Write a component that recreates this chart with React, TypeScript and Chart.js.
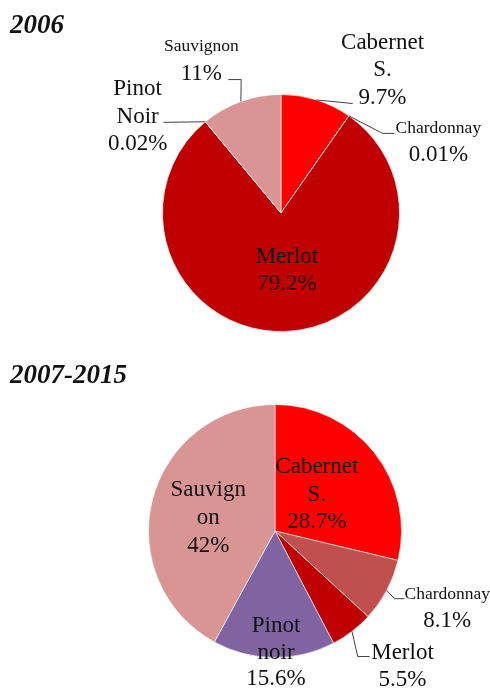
import React, { useEffect, useRef } from "react";
import { Chart, registerables } from "chart.js";

Chart.register(...registerables);

// ---- Data ----
const categories2006 = ["Cabernet S.", "Chardonnay", "Merlot", "Pinot Noir", "Sauvignon"];
const values2006 = [9.7, 0.01, 79.2, 0.02, 11];
const labels2006 = ["9.7%", "0.01%", "79.2%", "0.02%", "11%"];

const categories0715 = ["Cabernet S.", "Chardonnay", "Merlot", "Pinot noir", "Sauvignon"];
const values0715 = [28.7, 8.1, 5.5, 15.6, 42];
const labels0715 = ["28.7%", "8.1%", "5.5%", "15.6%", "42%"];

const colors2006 = ["#FF0000", "#C0504D", "#C00000", "#8064A2", "#D99594"];
const colors0715 = ["#FF0000", "#C0504D", "#C00000", "#8064A2", "#D99594"];

// ---- Label layout (fractions of radius, relative to pie center) ----
type LabelSpec = {
  lines: string[];
  smallFirst?: boolean;
  x: number;
  y: number;
  lh: number;
  leader?: [number, number][];
};

const layout2006: LabelSpec[] = [
  { lines: ["Cabernet", "S.", "{v}"], x: 0.857, y: -1.454, lh: 27.5, leader: [[0.605, -0.924]] },
  { lines: ["Chardonnay", "{v}"], smallFirst: true, x: 1.328, y: -0.723, lh: 25.5, leader: [[0.857, -0.672], [0.958, -0.672]] },
  { lines: ["Merlot", "{v}"], x: 0.05, y: 0.353, lh: 27 },
  { lines: ["Pinot", "Noir", "{v}"], x: -1.21, y: -1.059, lh: 27.5, leader: [[-0.992, -0.765]] },
  { lines: ["Sauvignon", "{v}"], smallFirst: true, x: -0.672, y: -1.42, lh: 27, leader: [[-0.336, -1.126], [-0.445, -1.126]] },
];

const layout0715: LabelSpec[] = [
  { lines: ["Cabernet", "S.", "{v}"], x: 0.331, y: -0.52, lh: 27.5 },
  { lines: ["Chardonnay", "{v}"], smallFirst: true, x: 1.362, y: 0.488, lh: 26, leader: [[0.945, 0.535], [1.024, 0.535]] },
  { lines: ["Merlot", "{v}"], x: 1.008, y: 0.953, lh: 26.5, leader: [[0.654, 0.992], [0.748, 0.992]] },
  { lines: ["Pinot", "noir", "{v}"], x: 0.008, y: 0.74, lh: 26.5 },
  { lines: ["Sauvign", "on", "{v}"], x: -0.528, y: -0.339, lh: 28 },
];

const FONT = '"Liberation Serif", "Times New Roman", serif';

function makeLabelPlugin(layout: LabelSpec[], valueLabels: string[]) {
  return {
    id: "pieLabels",
    afterDatasetsDraw(chart: any) {
      const meta = chart.getDatasetMeta(0);
      const ctx = chart.ctx;
      ctx.save();
      meta.data.forEach((arc: any, i: number) => {
        const spec = layout[i];
        if (!spec) return;
        const { x: cx, y: cy, outerRadius: r, startAngle, endAngle } = arc.getProps(
          ["x", "y", "outerRadius", "startAngle", "endAngle"],
          true
        );
        // leader line
        if (spec.leader) {
          const mid = (startAngle + endAngle) / 2;
          ctx.beginPath();
          ctx.strokeStyle = "#404040";
          ctx.lineWidth = 1;
          ctx.moveTo(cx + Math.cos(mid) * r, cy + Math.sin(mid) * r);
          spec.leader.forEach(([px, py]) => ctx.lineTo(cx + px * r, cy + py * r));
          ctx.stroke();
        }
        // text
        ctx.fillStyle = "#111";
        ctx.textAlign = "center";
        ctx.textBaseline = "alphabetic";
        spec.lines.forEach((ln, j) => {
          const text = ln === "{v}" ? valueLabels[i] : ln;
          const size = spec.smallFirst && j === 0 ? 17.5 : 23;
          ctx.font = `${size}px ${FONT}`;
          const yy = cy + spec.y * r + j * spec.lh + 0.34 * size;
          ctx.fillText(text, cx + spec.x * r, yy);
        });
      });
      ctx.restore();
    },
  };
}

function PieChart(props: {
  categories: string[];
  values: number[];
  valueLabels: string[];
  colors: string[];
  layout: LabelSpec[];
  padding: { left: number; right: number; top: number; bottom: number };
  width: number;
  height: number;
}) {
  const ref = useRef<HTMLCanvasElement | null>(null);
  useEffect(() => {
    if (!ref.current) return;
    const chart = new Chart(ref.current, {
      type: "pie",
      data: {
        labels: props.categories,
        datasets: [
          {
            data: props.values,
            backgroundColor: props.colors,
            borderColor: "rgba(255,255,255,0.6)",
            borderWidth: 1,
          },
        ],
      },
      options: {
        animation: false,
        responsive: false,
        maintainAspectRatio: false,
        layout: { padding: props.padding },
        plugins: { legend: { display: false }, tooltip: { enabled: false } },
      },
      plugins: [makeLabelPlugin(props.layout, props.valueLabels)],
    });
    return () => chart.destroy();
  }, []);
  return <canvas ref={ref} width={props.width} height={props.height} style={{ display: "block", width: props.width, height: props.height }} />;
}

const titleStyle: React.CSSProperties = {
  position: "absolute",
  left: 10,
  fontFamily: FONT,
  fontWeight: "bold",
  fontStyle: "italic",
  fontSize: 27,
  lineHeight: 1,
  color: "#111",
  margin: 0,
};

export default function App() {
  return (
    <div style={{ position: "absolute", left: 0, top: 0, width: 490, height: 689, background: "#fff", overflow: "hidden" }}>
      <div style={{ position: "absolute", left: 0, top: 0 }}>
        <PieChart
          categories={categories2006}
          values={values2006}
          valueLabels={labels2006}
          colors={colors2006}
          layout={layout2006}
          padding={{ left: 162, right: 90, top: 94, bottom: 13 }}
          width={490}
          height={345}
        />
      </div>
      <div style={{ position: "absolute", left: 0, top: 345 }}>
        <PieChart
          categories={categories0715}
          values={values0715}
          valueLabels={labels0715}
          colors={colors0715}
          layout={layout0715}
          padding={{ left: 148, right: 88, top: 59, bottom: 31 }}
          width={490}
          height={344}
        />
      </div>
      <div style={{ ...titleStyle, top: 11 }}>2006</div>
      <div style={{ ...titleStyle, top: 361 }}>2007-2015</div>
    </div>
  );
}
